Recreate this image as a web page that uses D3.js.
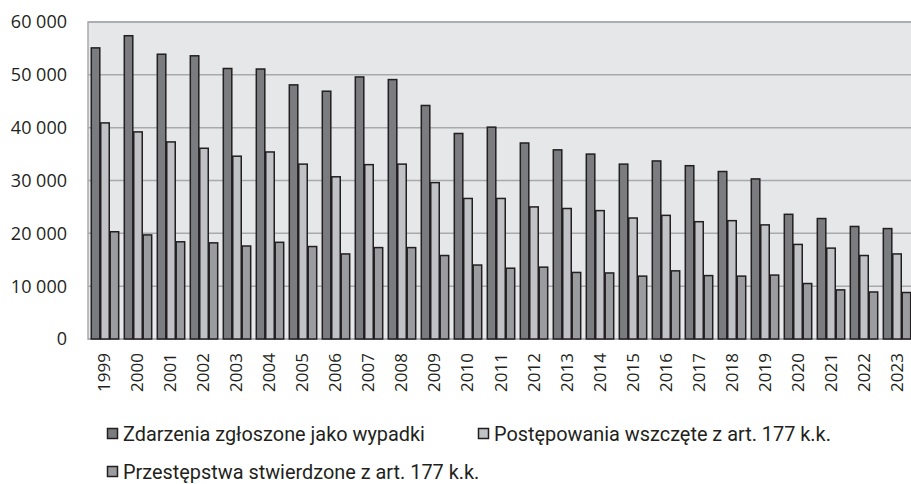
<!DOCTYPE html>
<html>
<head>
<meta charset="utf-8">
<script src="https://cdn.jsdelivr.net/npm/d3@7"></script>
<style>
  html, body { margin: 0; padding: 0; background: #fff; overflow: hidden; }
  svg { display: block; }
</style>
</head>
<body>
<div id="chart"></div>
<script>
// Years on the x axis
const years = ["1999", "2000", "2001", "2002", "2003", "2004", "2005", "2006", "2007", "2008",
  "2009", "2010", "2011", "2012", "2013", "2014", "2015", "2016", "2017", "2018",
  "2019", "2020", "2021", "2022", "2023"];

// Series values
const zdarzenia = [55100, 57400, 53900, 53600, 51200, 51100, 48100, 46900, 49600, 49100,
  44200, 38900, 40100, 37100, 35800, 35000, 33100, 33700, 32800, 31700,
  30300, 23600, 22800, 21300, 20900];
const postepowania = [40900, 39200, 37300, 36100, 34600, 35400, 33100, 30700, 33000, 33100,
  29600, 26600, 26600, 25000, 24700, 24300, 22900, 23400, 22200, 22400,
  21600, 17900, 17200, 15800, 16100];
const przestepstwa = [20300, 19700, 18400, 18200, 17600, 18300, 17500, 16100, 17300, 17300,
  15800, 14000, 13400, 13600, 12600, 12500, 11900, 12900, 12000, 11900,
  12100, 10500, 9300, 8900, 8800];

const seriesNames = [
  "Zdarzenia zgłoszone jako wypadki",
  "Postępowania wszczęte z art. 177 k.k.",
  "Przestępstwa stwierdzone z art. 177 k.k."
];
const yTicks = [0, 10000, 20000, 30000, 40000, 50000, 60000];

const width = 911, height = 484;
const margin = { top: 22, right: -3, bottom: 145, left: 88 };
const colors = ["#7b7c7f", "#c1c2c5", "#9b9c9f"];

const svg = d3.select("#chart").append("svg")
  .attr("width", width)
  .attr("height", height);

const x0 = d3.scaleBand()
  .domain(years)
  .range([margin.left, width - margin.right])
  .paddingInner(0.17)
  .paddingOuter(0.1);

const x1 = d3.scaleBand()
  .domain([0, 1, 2])
  .range([0, x0.bandwidth()])
  .paddingInner(0.1);

const y = d3.scaleLinear()
  .domain([0, 60000])
  .range([height - margin.bottom, margin.top]);

const fmt = d3.formatLocale({ thousands: "\u00a0", grouping: [3], decimal: ",", currency: ["", ""] }).format(",d");

// plot background
svg.append("rect")
  .attr("x", margin.left)
  .attr("y", margin.top)
  .attr("width", width - margin.left + 5)
  .attr("height", y(0) - margin.top)
  .attr("fill", "#e6e7e8")
  .attr("stroke", "#a7a9ac")
  .attr("stroke-width", 1.5);

// gridlines
svg.append("g")
  .selectAll("line")
  .data(yTicks)
  .enter()
  .append("line")
  .attr("x1", margin.left)
  .attr("x2", width + 5)
  .attr("y1", d => y(d))
  .attr("y2", d => y(d))
  .attr("stroke", "#a7a9ac")
  .attr("stroke-width", 1.5);

// y labels
svg.append("g")
  .selectAll("text")
  .data(yTicks)
  .enter()
  .append("text")
  .attr("x", 67)
  .attr("y", d => y(d))
  .attr("dy", "0.36em")
  .attr("text-anchor", "end")
  .attr("font-family", "'Open Sans', sans-serif")
  .attr("font-size", "18px")
  .attr("fill", "#231f20")
  .text(d => fmt(d));

// bars
const series = [zdarzenia, postepowania, przestepstwa];
const groups = svg.append("g")
  .selectAll("g")
  .data(years)
  .enter()
  .append("g")
  .attr("transform", d => `translate(${x0(d)},0)`);

groups.selectAll("rect")
  .data((d, i) => series.map((s, k) => ({ k, v: s[i] })))
  .enter()
  .append("rect")
  .attr("x", d => x1(d.k))
  .attr("y", d => y(d.v))
  .attr("width", x1.bandwidth())
  .attr("height", d => y(0) - y(d.v))
  .attr("fill", d => colors[d.k])
  .attr("stroke", "#231f20")
  .attr("stroke-width", 1.5);

// x labels
svg.append("g")
  .selectAll("text")
  .data(years)
  .enter()
  .append("text")
  .attr("transform", d => `translate(${x0(d) + x0.bandwidth() / 2 - 1},353) rotate(-90)`)
  .attr("text-anchor", "end")
  .attr("dominant-baseline", "central")
  .attr("font-family", "'Open Sans', sans-serif")
  .attr("font-size", "17px")
  .attr("fill", "#231f20")
  .text(d => d);

// legend
const legendPos = [[107, 441], [478, 441], [107, 479]];
const legend = svg.append("g")
  .selectAll("g")
  .data(seriesNames)
  .enter()
  .append("g")
  .attr("transform", (d, i) => `translate(${legendPos[i][0]},${legendPos[i][1]})`);

legend.append("rect")
  .attr("x", 0.5)
  .attr("y", -12.5)
  .attr("width", 10)
  .attr("height", 10)
  .attr("fill", (d, i) => colors[i])
  .attr("stroke", "#231f20")
  .attr("stroke-width", 1.5);

const legendText = legend.append("text")
  .attr("x", 16)
  .attr("y", 0)
  .attr("font-family", "Roboto, sans-serif")
  .attr("font-size", "19px")
  .attr("fill", "#231f20")
  .text(d => d);

// first legend label spans about 302px in the reference; size the font to match
const w0 = legendText.node().getComputedTextLength();
const legendSize = Math.max(16, Math.min(21, 19 * 302 / w0));
legendText.attr("font-size", legendSize + "px");
</script>
</body>
</html>
